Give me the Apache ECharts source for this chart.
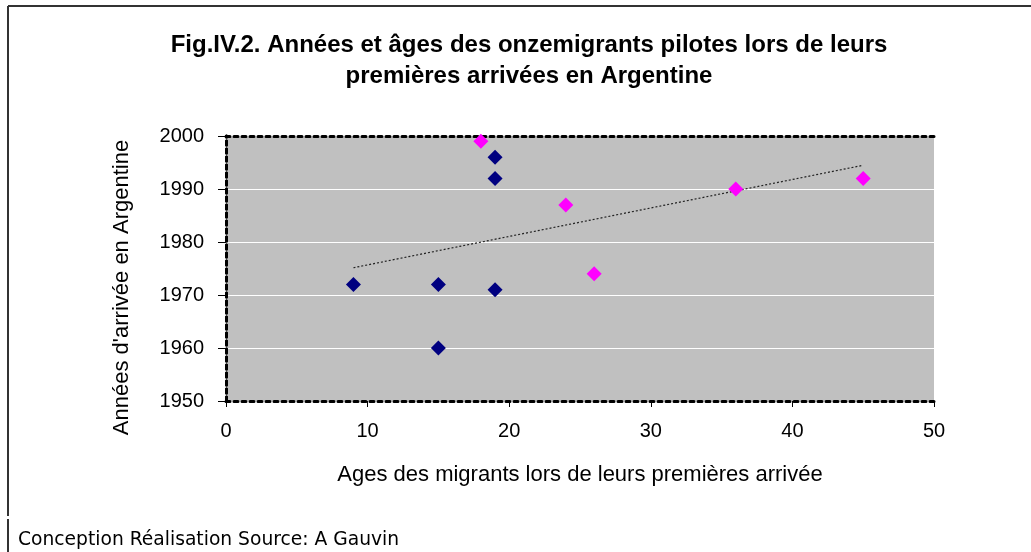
<!DOCTYPE html>
<html>
<head>
<meta charset="utf-8">
<title>Fig.IV.2</title>
<script src="https://cdn.jsdelivr.net/npm/echarts@6/dist/echarts.min.js"></script>
<style>
  html, body { margin: 0; padding: 0; background: #fff; }
  #chart { width: 1031px; height: 552px; }
</style>
</head>
<body>
<div id="chart"></div>
<script>
// migrants pilotes : âge à l'arrivée / année d'arrivée
const ageBleu = [9, 15, 15, 19, 19, 19];
const anneeBleu = [1972, 1972, 1960, 1996, 1992, 1971];
const ageRose = [18, 24, 26, 36, 45];
const anneeRose = [1999, 1987, 1974, 1990, 1992];

const xTicks = [0, 10, 20, 30, 40, 50];
const yTicks = [1950, 1960, 1970, 1980, 1990, 2000];

const titre = 'Fig.IV.2. Années et âges des onzemigrants pilotes lors de leurs\npremières arrivées en Argentine';
const source = 'Conception Réalisation Source: A Gauvin';

// courbe de tendance linéaire (moindres carrés sur tous les points)
function tendance() {
  const xs = ageBleu.concat(ageRose);
  const ys = anneeBleu.concat(anneeRose);
  const n = xs.length;
  const mx = xs.reduce((a, b) => a + b, 0) / n;
  const my = ys.reduce((a, b) => a + b, 0) / n;
  let sxy = 0, sxx = 0;
  for (let i = 0; i < n; i++) {
    sxy += (xs[i] - mx) * (ys[i] - my);
    sxx += (xs[i] - mx) * (xs[i] - mx);
  }
  const a = sxy / sxx;
  const b = my - a * mx;
  const x0 = Math.min(...xs), x1 = Math.max(...xs);
  return [[x0, a * x0 + b], [x1, a * x1 + b]];
}

const pts = (xs, ys) => xs.map((x, i) => [x, ys[i]]);

const chart = echarts.init(document.getElementById('chart'), null, { renderer: 'canvas' });

const font = "'Liberation Sans', Arial, sans-serif";
const bordure = { color: '#000', width: 3, type: [4, 4] };

const option = {
  backgroundColor: '#fff',
  animation: false,
  grid: {
    left: 226, right: 97, top: 136, bottom: 151,
    show: true,
    backgroundColor: '#C0C0C0',
    borderWidth: 0
  },
  graphic: [
    // cadre extérieur
    { type: 'line', shape: { x1: 8, y1: 6, x2: 1031, y2: 6 }, style: { stroke: '#333', lineWidth: 2 } },
    { type: 'line', shape: { x1: 8, y1: 6, x2: 8, y2: 516 }, style: { stroke: '#333', lineWidth: 2 } },
    { type: 'line', shape: { x1: 8, y1: 519, x2: 8, y2: 552 }, style: { stroke: '#333', lineWidth: 2 } },
    {
      type: 'text', x: 529, y: 30,
      style: {
        text: titre, align: 'center', verticalAlign: 'top',
        font: "bold 24px 'Liberation Sans', Arial, sans-serif",
        lineHeight: 31, fill: '#000'
      }
    },
    {
      type: 'text', x: 18, y: 540,
      style: {
        text: source, verticalAlign: 'middle',
        font: "18.7px 'DejaVu Sans', Verdana, sans-serif", fill: '#000'
      }
    }
  ],
  xAxis: [
    {
      type: 'value', min: 0, max: 50, interval: 10,
      name: 'Ages des migrants lors de leurs premières arrivée',
      nameLocation: 'middle', nameGap: 63,
      nameTextStyle: { fontFamily: font, fontSize: 22, color: '#000' },
      axisLine: { show: true, lineStyle: bordure },
      axisTick: { show: true, inside: false, length: 6, lineStyle: { color: '#000' } },
      axisLabel: { fontFamily: font, fontSize: 20, color: '#000', margin: 20,
        formatter: v => xTicks.includes(v) ? String(v) : '' },
      splitLine: { show: false }
    },
    {
      type: 'value', min: 0, max: 50, position: 'top',
      axisLine: { show: true, lineStyle: bordure },
      axisTick: { show: false }, axisLabel: { show: false }, splitLine: { show: false }
    }
  ],
  yAxis: [
    {
      type: 'value', min: 1950, max: 2000, interval: 10,
      name: "Années d'arrivée en Argentine",
      nameLocation: 'middle', nameGap: 93, nameRotate: 90,
      nameTextStyle: { fontFamily: font, fontSize: 22, color: '#000', padding: [0, 38, 0, 0] },
      axisLine: { show: true, lineStyle: bordure },
      axisTick: { show: true, inside: false, length: 8, lineStyle: { color: '#000' } },
      axisLabel: { fontFamily: font, fontSize: 20, color: '#000', margin: 22,
        formatter: v => yTicks.includes(v) ? String(v) : '' },
      splitLine: { show: true, lineStyle: { color: '#fff', width: 1 } }
    },
    {
      type: 'value', min: 1950, max: 2000, position: 'right',
      axisLine: { show: true, lineStyle: bordure },
      axisTick: { show: false }, axisLabel: { show: false }, splitLine: { show: false }
    }
  ],
  series: [
    {
      name: 'tendance', type: 'line', data: tendance(),
      showSymbol: false, symbol: 'none', silent: true, z: 1,
      lineStyle: { color: '#222', width: 1.2, type: [2, 2] }
    },
    {
      name: 'bleu', type: 'scatter', data: pts(ageBleu, anneeBleu),
      symbol: 'diamond', symbolSize: [15, 15], z: 3,
      itemStyle: { color: '#000080', opacity: 1 }
    },
    {
      name: 'rose', type: 'scatter', data: pts(ageRose, anneeRose),
      symbol: 'diamond', symbolSize: [15, 15], z: 3,
      itemStyle: { color: '#FF00FF', opacity: 1 }
    }
  ]
};

chart.setOption(option);
</script>
</body>
</html>
